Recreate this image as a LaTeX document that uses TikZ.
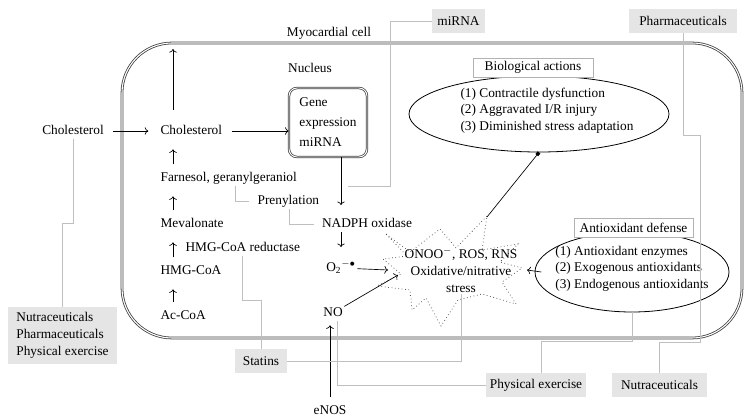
\documentclass[tikz,border=0pt]{standalone}
\usepackage{fontspec}
\setmainfont{Liberation Serif}
\usetikzlibrary{arrows.meta,shapes.geometric,positioning}

\begin{document}
\begin{tikzpicture}[x=0.75pt,y=-0.75pt,>=To,
  font=\fontsize{10}{12.75}\selectfont,
  txt/.style={inner sep=1pt,text height=7pt,text depth=2pt},
  grbox/.style={fill=black!10,inner sep=0pt,minimum height=18pt},
  lbl/.style={draw=black!30,line width=0.6pt,fill=white,inner sep=0pt,minimum height=14.25pt},
  conn/.style={draw=black!25,line width=0.6pt},
  arr/.style={->,line width=0.5pt},
  up/.style={arr,shorten <=4.5pt,shorten >=8pt}]

\useasboundingbox (0,0) rectangle (752,416);

% myocardial cell
\draw[draw=black!75,double=white,double distance=0.8pt,line width=0.6pt,
  rounded corners=37.5pt] (122,43) rectangle (742,338);

\node[txt] (cell) at (329,33) {Myocardial cell};
\node[txt] (nucleus) at (310,69) {Nucleus};

% mevalonate pathway
\node[txt] (cholout) at (73,131) {Cholesterol};
\node[txt,anchor=west] (cholin) at (159,131) {Cholesterol};
\node[txt,anchor=west] (farn) at (159,178) {Farnesol, geranylgeraniol};
\node[txt,anchor=west] (prenyl) at (256,201) {Prenylation};
\node[txt,anchor=west] (mev) at (159,224) {Mevalonate};
\node[txt,anchor=west] (hmgred) at (184,248) {HMG-CoA reductase};
\node[txt,anchor=west] (hmg) at (159,271) {HMG-CoA};
\node[txt,anchor=west] (accoa) at (159,316) {Ac-CoA};
\coordinate (membrane) at (173,49);

\node[draw=black!75,double=white,double distance=0.7pt,line width=0.55pt,
  rounded corners=6pt,minimum width=58.5pt,minimum height=51.75pt,
  align=left,font=\fontsize{10}{15}\selectfont] (gene) at (328,122.5)
  {Gene\\expression\\miRNA};

% oxidative stress
\node[txt] (nadph) at (367,224) {NADPH oxidase};
\node[txt] (o2) at (341,268) {O\textsubscript{2}\textsuperscript{$-\bullet$}};
\node[txt] (no) at (333,313) {NO};
\node[txt] (enos) at (330,411) {eNOS};

\draw[dotted,line width=0.55pt,black!70] (386,234) -- (410,252) -- (440,229)
  -- (456,248) -- (487,216) -- (482,250) -- (518,244) -- (500,262)
  -- (522,268) -- (502,282) -- (516,304) -- (482,294) -- (458,300)
  -- (441,326) -- (426,298) -- (412,310) -- (410,290) -- (377,286)
  -- (401,274) -- (383,259) -- (407,256) -- cycle;
\node[txt,align=center,text height=,text depth=] (stress) at (461,270)
  {ONOO\textsuperscript{$-$}, ROS, RNS\\Oxidative/nitrative\\stress};
\coordinate (sto2) at (388,270);
\coordinate (stno) at (398,275);
\coordinate (stanti) at (527,270);
\coordinate (sttip) at (487,217);
\coordinate (mirnaend) at (348,186);

% biological actions
\node[draw,ellipse,line width=0.6pt,minimum width=195pt,minimum height=57pt,
  inner sep=0pt] (bio) at (539,114) {};
\node[txt,align=left,text height=,text depth=,font=\fontsize{10}{12.4}\selectfont]
  (biotext) at (547,110.5)
  {(1) Contractile dysfunction\\(2) Aggravated I/R injury\\(3) Diminished stress adaptation};
\node[lbl,minimum width=90pt] (biolbl) at (533,67.5) {Biological actions};

% antioxidant defense
\node[draw,ellipse,line width=0.6pt,minimum width=145.5pt,minimum height=60pt,
  inner sep=0pt] (anti) at (632,272) {};
\node[txt,align=left,text height=,text depth=,font=\fontsize{10}{12.4}\selectfont]
  (antitext) at (632,268.5)
  {(1) Antioxidant enzymes\\(2) Exogenous antioxidants\\(3) Endogenous antioxidants};
\node[lbl,minimum width=89.25pt] (antilbl) at (633.5,227.5) {Antioxidant defense};

% interventions
\node[grbox,minimum width=39.75pt] (mirna) at (458.5,21) {miRNA};
\node[grbox,minimum width=81pt] (pharma) at (683,21) {Pharmaceuticals};
\node[grbox,minimum width=81.75pt,minimum height=42.75pt,align=left] (leftbox)
  at (62.5,335.5) {Nutraceuticals\\Pharmaceuticals\\Physical exercise};
\node[grbox,minimum width=39pt] (statins) at (261,361) {Statins};
\node[grbox,minimum width=75pt] (physex) at (536,385) {Physical exercise};
\node[grbox,minimum width=71.25pt] (nutra) at (659.5,385) {Nutraceuticals};

% arrows
\draw[arr,shorten <=6pt,shorten >=8pt] (cholout) -- (cholin);
\draw[arr,shorten <=6pt] (cholin.east) -- (gene.west |- cholin.east);
\draw[arr,shorten <=10pt] (cholin.north west -| membrane) -- (membrane);
\draw[up] (farn.north west -| membrane) -- (cholin.south west -| membrane);
\draw[up] (mev.north west -| membrane) -- (farn.south west -| membrane);
\draw[up] (hmg.north west -| membrane) -- (mev.south west -| membrane);
\draw[up] (accoa.north west -| membrane) -- (hmg.south west -| membrane);
\draw[arr,shorten >=8.5pt] (gene.south -| o2) -- (nadph.north -| o2);
\draw[arr,shorten <=0.5pt,shorten >=10pt] (nadph.south -| o2) -- (o2.north);
\draw[arr] (o2) -- (sto2);
\draw[arr] (no) -- (stno);
\draw[arr,shorten <=5pt,shorten >=3.5pt] (enos.north) -- (enos.north |- no.south);
\draw[arr] ([xshift=5pt]anti.west) -- (stanti);
\draw[-{Square[length=2.6pt,width=2.6pt]},line width=0.5pt] (sttip) -- (bio.south);

% connectors
\draw[conn] (cholout.south) -- ++(0,85) -| (leftbox.north);
\draw[conn] ([xshift=5pt]farn.south) |- ([xshift=-5pt]prenyl.west);
\draw[conn] ([xshift=1pt]prenyl.south) |- ([xshift=-5pt]nadph.west);
\draw[conn] (mirna.west) -- ++(-41,0) |- (mirnaend);
\draw[conn] (hmgred.south) -- ++(0,45) -| (statins.north);
\draw[conn] (statins.east) -| (stress.south);
\draw[conn] ([xshift=3pt]no.south) |- (physex.west);
\draw[conn] ([xshift=3.75pt]physex.north) -- ++(0,-31) -| (anti.south);
\draw[conn] (pharma.south) -- ++(0,102) -- ++(17,0) -- ++(0,207) -| (nutra.north);
\end{tikzpicture}
\end{document}
